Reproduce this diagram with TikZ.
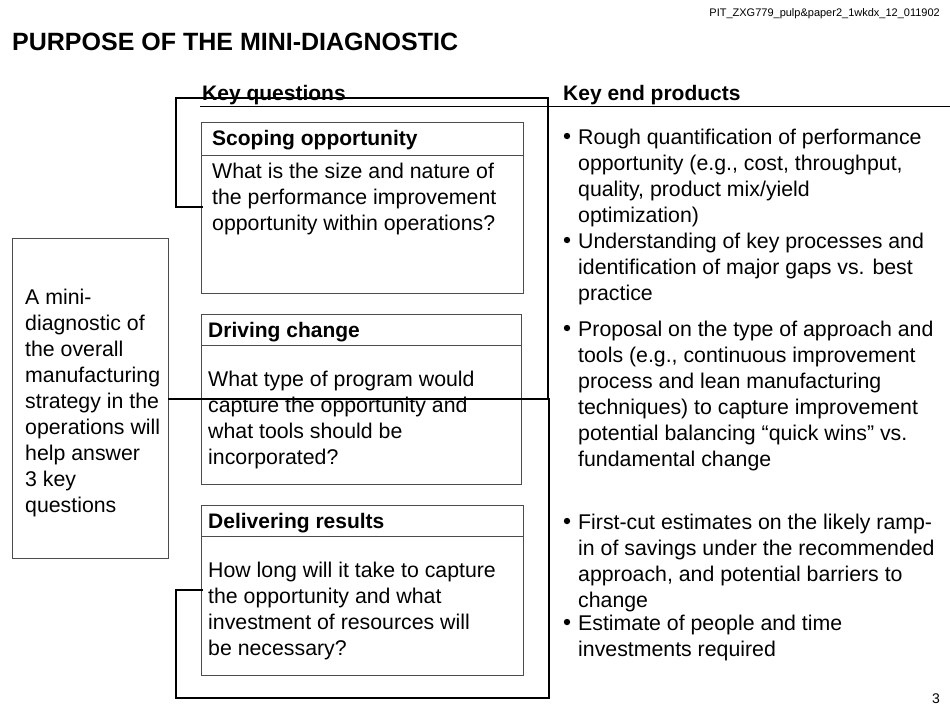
\documentclass[tikz,border=0pt]{standalone}
\usepackage{fontspec}
\setmainfont{Liberation Sans}
\begin{document}
\begin{tikzpicture}[x=1pt,y=-1pt,
  txt/.style={anchor=north west,inner sep=0pt,align=left,font=\fontsize{21.3}{26}\selectfont},
  hd/.style={anchor=west,inner sep=0pt,font=\fontsize{21}{24}\selectfont\bfseries},
  qbox/.style={draw=black!70,line width=0.8pt},
  brk/.style={draw,line width=1.6pt}]
\useasboundingbox (0,0) rectangle (950,713);
\node[anchor=north east,inner sep=0pt,font=\fontsize{11}{13}\selectfont] (code) at (940,8) {PIT\_ZXG779\_pulp\&paper2\_1wkdx\_12\_011902};
\node[anchor=west,inner sep=0pt,font=\fontsize{25}{28}\selectfont\bfseries] (title) at (12,42) {PURPOSE OF THE MINI-DIAGNOSTIC};
\node[hd] (kq) at (202,95) {Key questions};
\node[hd] (kp) at (563,95) {Key end products};
\draw[line width=0.8pt] (200,106) coordinate (ul1) -- (950,106) coordinate (ul2);
% left box
\draw[qbox] (12,238) rectangle (168,558);
\node[txt] (intro) at (25,289) {A mini-\\diagnostic of\\the overall\\manufacturing\\strategy in the\\operations will\\help answer\\3 key\\questions};
% boxes
\draw[qbox] (201,122) rectangle (523,293); \draw[qbox] (201,155)--(523,155);
\node[hd] (h1) at (212,140) {Scoping opportunity};
\node[txt] (t1) at (212,163) {What is the size and nature of\\the performance improvement\\opportunity within operations?};
\draw[qbox] (201,314) rectangle (521,484); \draw[qbox] (201,345)--(521,345);
\node[hd] (h2) at (208,332) {Driving change};
\node[txt] (t2) at (208,371) {What type of program would\\capture the opportunity and\\what tools should be\\incorporated?};
\draw[qbox] (201,505) rectangle (523,675); \draw[qbox] (201,536)--(523,536);
\node[hd] (h3) at (208,523) {Delivering results};
\node[txt] (t3) at (208,562) {How long will it take to capture\\the opportunity and what\\investment of resources will\\be necessary?};
% brackets
\draw[brk] (203,207) -- (176,207) -- (176,98) -- (548,98) -- (548,399);
\draw[brk] (168,399) -- (549,399) -- (549,698) -- (176,698) -- (176,590) -- (203,590);
% bullets
\foreach \y/\t [count=\i] in {
 129/{Rough quantification of performance\\opportunity (e.g., cost, throughput,\\quality, product mix/yield\\optimization)},
 233/{Understanding of key processes and\\identification of major gaps vs. best\\practice},
 321/{Proposal on the type of approach and\\tools (e.g., continuous improvement\\process and lean manufacturing\\techniques) to capture improvement\\potential balancing “quick wins” vs.\\fundamental change},
 514/{First-cut estimates on the likely ramp-\\in of savings under the recommended\\approach, and potential barriers to\\change},
 615/{Estimate of people and time\\investments required}}{
 \node[txt] (b\i) at (578,\y) {\t};
 \fill (567,\y+7) circle (3.2pt) coordinate (d\i);
}
\node[anchor=east,inner sep=0pt,font=\fontsize{14}{16}\selectfont] (pg) at (940,699) {3};
\end{tikzpicture}
\end{document}
